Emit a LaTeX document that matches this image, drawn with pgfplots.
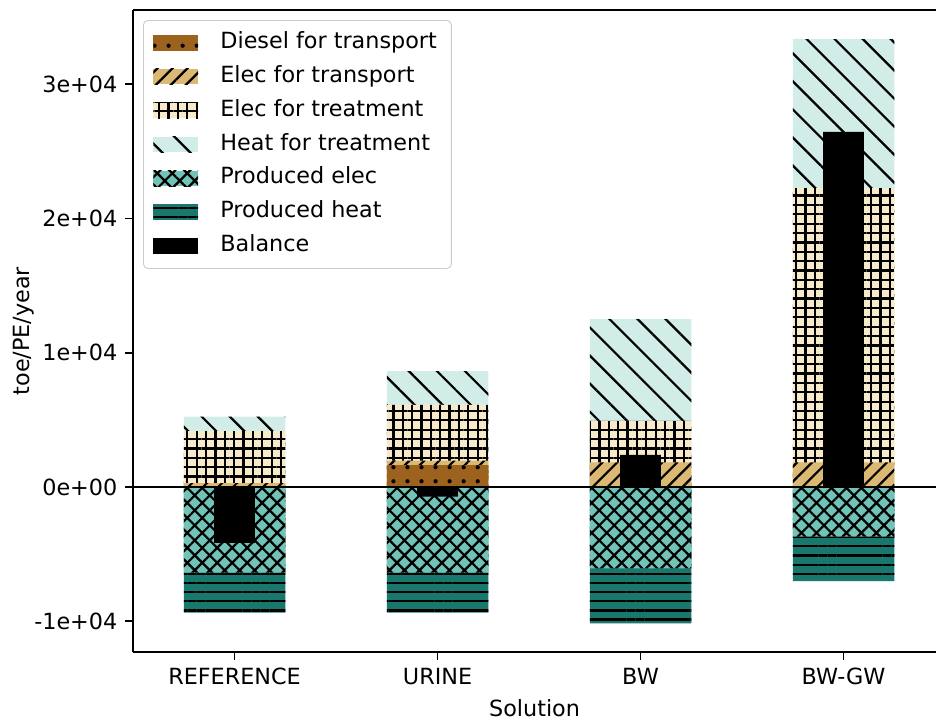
\documentclass[border=0pt]{standalone}
\usepackage{fontspec}
\setmainfont{DejaVu Sans}
\usepackage{pgfplots}
\pgfplotsset{compat=1.18}
\usepackage{pgfplotstable}
\usetikzlibrary{patterns.meta}

\definecolor{cdiesel}{RGB}{156,98,30}
\definecolor{ctrans}{RGB}{220,185,115}
\definecolor{ctreat}{RGB}{247,234,203}
\definecolor{cheat}{RGB}{210,237,232}
\definecolor{cpelec}{RGB}{112,195,182}
\definecolor{cpheat}{RGB}{24,120,110}

% cumulative tops of the stacked segments (positive and negative stacks)
\pgfplotstableread{
x diesel trans treat heat pelec pheat balance
0 0    300  4170  5240  -6380 -9360  -4150
1 1640 1960 6110  8640  -6380 -9360  -720
2 0    1840 4920  12510 -6060 -10160 2400
3 0    1840 22260 33360 -3700 -7000  26450
}\bars

\pgfplotsset{
  sdiesel/.style={fill=cdiesel, draw=none, postaction={pattern={Dots[distance=6.3pt, radius=0.95pt]}, pattern color=black}},
  strans/.style={fill=ctrans, draw=none, postaction={pattern={Lines[angle=45, distance=4.75pt, line width=1pt]}, pattern color=black}},
  streat/.style={fill=ctreat, draw=none, postaction={pattern={Hatch[angle=0, distance=4.2pt, line width=1pt]}, pattern color=black}},
  sheat/.style={fill=cheat, draw=none, postaction={pattern={Lines[angle=-45, distance=8.9pt, line width=1pt]}, pattern color=black}},
  spelec/.style={fill=cpelec, draw=none, postaction={pattern={Hatch[angle=45, distance=4.75pt, line width=1pt]}, pattern color=black}},
  spheat/.style={fill=cpheat, draw=none, postaction={pattern={Lines[angle=0, distance=4.1pt, line width=1pt]}, pattern color=black}},
  sbal/.style={fill=black, draw=none},
  boxleg/.style={legend image code/.code={\draw[##1, draw=none, sharp corners] (0pt,-3.5pt) rectangle (20pt,3.5pt);}},
}

\begin{document}
\begin{tikzpicture}
\begin{axis}[
  name=ax,
  scale only axis, width=360.1pt, height=287.9pt,
  xmin=-0.5, xmax=3.456, ymin=-12290, ymax=35520,
  axis y line*=left,
  ybar, bar width=0.5, bar shift=0pt,
  xtick={0,1,2,3}, xticklabels={REFERENCE,URINE,BW,BW-GW},
  ytick={-10000,0,10000,20000,30000},
  yticklabels={-1e+04,0e+00,1e+04,2e+04,3e+04},
  tick pos=left, tick align=outside, major tick length=3.5pt,
  every tick/.append style={black, line width=0.8pt},
  axis line style={black, line width=0.8pt},
  xlabel={Solution}, ylabel={toe/PE/year},
  ylabel style={yshift=-7pt},
  legend cell align=left,
  legend style={at={(0.01245,0.9844)}, anchor=north west, draw=black!20,
    rounded corners=2pt, fill=white, inner xsep=4.5pt, inner ysep=3pt, row sep=1.2pt,
    nodes={inner sep=2pt, text height=7.5pt, text depth=2.5pt},
    /tikz/every odd column/.append style={column sep=8pt}},
]
\addplot[sheat, forget plot] table[x=x, y=heat] {\bars};
\addplot[streat, forget plot] table[x=x, y=treat] {\bars};
\addplot[strans, forget plot] table[x=x, y=trans] {\bars};
\addplot[sdiesel, forget plot] table[x=x, y=diesel] {\bars};
\addplot[spheat, forget plot] table[x=x, y=pheat] {\bars};
\addplot[spelec, forget plot] table[x=x, y=pelec] {\bars};
\addplot[sbal, bar width=0.2, forget plot] table[x=x, y=balance] {\bars};
\addplot[sharp plot, black, line width=1pt, forget plot] coordinates {(-0.5,0) (3.456,0)};

\addlegendimage{sdiesel, boxleg}
\addlegendimage{strans, boxleg}
\addlegendimage{streat, boxleg}
\addlegendimage{sheat, boxleg}
\addlegendimage{spelec, boxleg}
\addlegendimage{spheat, boxleg}
\addlegendimage{sbal, boxleg}
\legend{Diesel for transport, Elec for transport, Elec for treatment, Heat for treatment, Produced elec, Produced heat, Balance}
\end{axis}
\pgfresetboundingbox
\path (ax.south west) ++(-59.64pt,-30.5pt) rectangle ++(419.7pt,322.9pt);
\end{tikzpicture}
\end{document}
